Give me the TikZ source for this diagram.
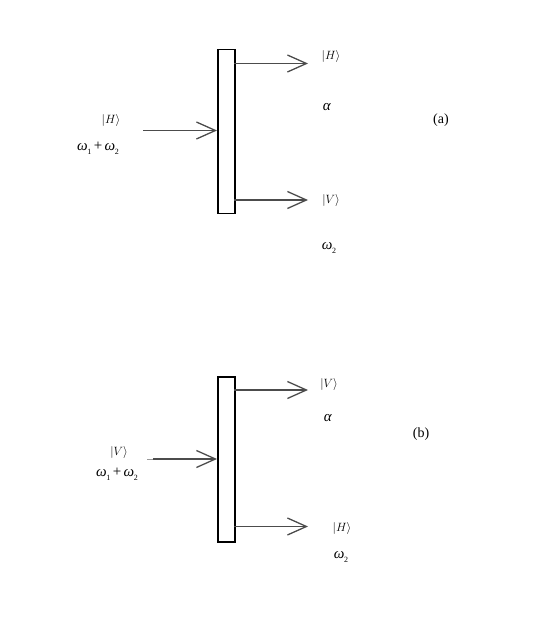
\documentclass[tikz,border=0pt]{standalone}
\usepackage{fontspec}
\setmainfont{Liberation Serif}
\usetikzlibrary{arrows.meta}
\newcommand{\omg}[1]{\textit{ω}\kern-0.5pt\raisebox{-0.25em}{\fontsize{8}{9}\selectfont #1}}
\begin{document}
\begin{tikzpicture}[x=1pt,y=-1pt,
  plate/.style={draw=black,line width=1.5pt,fill=white},
  beam/.style={draw=black!70,line width=1.3pt,-{Straight Barb[length=19pt,width=17pt,line width=1.3pt]}},
  ket/.style={font=\fontsize{11.5}{13}\selectfont,inner sep=0pt},
  freq/.style={font=\fontsize{15}{17}\selectfont,inner sep=0pt},
  tag/.style={font=\fontsize{14}{16}\selectfont,inner sep=0pt}]
\useasboundingbox (0,0) rectangle (545,617);
% (a)
\node[plate,minimum width=17pt,minimum height=164pt,inner sep=0pt,anchor=north west] (pa) at (217,49) {};
\coordinate (ina) at (143,130.5);
\coordinate (inta) at (217,130.5);
\coordinate (oa1s) at (234,63.5);
\coordinate (oa1) at (308,63.5);
\coordinate (oa2s) at (234,200);
\coordinate (oa2) at (308,200);
\draw[beam] (ina) -- (inta);
\draw[beam] (oa1s) -- (oa1);
\draw[beam] (oa2s) -- (oa2);
\node[ket] (ka) at (111,121) {$|H\rangle$};
\node[freq] (fa) at (98,148) {\omg{1}\,+\,\omg{2}};
\node[ket] (ka1) at (331,57) {$|H\rangle$};
\node[freq] (aa) at (327,107) {\textit{α}};
\node[ket] (ka2) at (331,201) {$|V\rangle$};
\node[freq] (wa) at (329,248) {\omg{2}};
\node[tag] (la) at (441,120) {(a)};
% (b)
\node[plate,minimum width=17pt,minimum height=165pt,inner sep=0pt,anchor=north west] (pb) at (217,376) {};
\coordinate (inb0) at (147,459);
\coordinate (inb) at (153,459);
\coordinate (intb) at (217,459);
\coordinate (ob1s) at (234,390);
\coordinate (ob1) at (308,390);
\coordinate (ob2s) at (234,526.5);
\coordinate (ob2) at (308,526.5);
\draw[black!40,line width=1pt] (inb0) -- (inb);
\draw[beam] (inb) -- (intb);
\draw[beam] (ob1s) -- (ob1);
\draw[beam] (ob2s) -- (ob2);
\node[ket] (kb) at (119,452) {$|V\rangle$};
\node[freq] (fb) at (117,474) {\omg{1}\,+\,\omg{2}};
\node[ket] (kb1) at (329,384) {$|V\rangle$};
\node[freq] (ab) at (328,418) {\textit{α}};
\node[ket] (kb2) at (342,528) {$|H\rangle$};
\node[freq] (wb) at (341,557) {\omg{2}};
\node[tag] (lb) at (421,434) {(b)};
\end{tikzpicture}
\end{document}
